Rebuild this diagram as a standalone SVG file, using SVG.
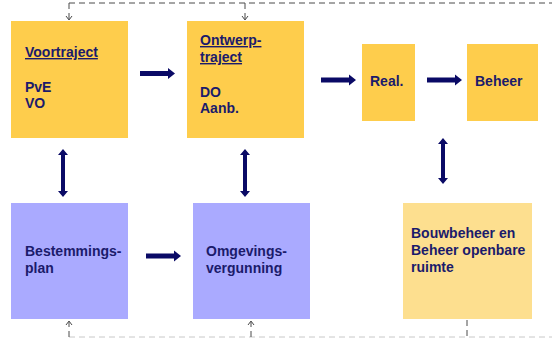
<svg xmlns="http://www.w3.org/2000/svg" width="552" height="338" viewBox="0 0 552 338">
<style>
.y{fill:#FECD4C}
.p{fill:#AAAAFF}
.l{fill:#FDDF8F}
.t{font-family:"Liberation Sans",Arial,sans-serif;font-weight:bold;font-size:14px;fill:#1B1B6B}
.a{fill:#0A0A66}
.d{fill:none;stroke:#4A4A4A;stroke-width:1;stroke-dasharray:6,4}
.dl{fill:none;stroke:#C8C8C8;stroke-width:1;stroke-dasharray:6,4}
.h{fill:none;stroke:#4A4A4A;stroke-width:1}
</style>
<rect width="552" height="338" fill="#fff"/>
<g id="connectors">
  <!-- dashed feedback lines -->
  <path class="d" d="M69,3 H552"/>
  <path class="d" d="M69,3 V19"/>
  <path class="h" d="M66,16 L69,20 L72,16"/>
  <path class="d" d="M245,3 V19"/>
  <path class="h" d="M242,16 L245,20 L248,16"/>
  <path class="dl" d="M69,337 H552"/>
  <path class="d" d="M69,337 V322"/>
  <path class="h" d="M66,325 L69,321 L72,325"/>
  <path class="d" d="M251,337 V322"/>
  <path class="h" d="M248,325 L251,321 L254,325"/>
  <path class="d" d="M467,320 V338"/>
  <!-- horizontal arrows -->
  <polygon class="a" points="140,71 168,71 168,68 175,73.5 168,79 168,76 140,76"/>
  <polygon class="a" points="321,77.5 349,77.5 349,74.5 356,80 349,85.5 349,82.5 321,82.5"/>
  <polygon class="a" points="427,77.5 455,77.5 455,74.5 462,80 455,85.5 455,82.5 427,82.5"/>
  <polygon class="a" points="146,253.5 174,253.5 174,250.5 181,256 174,261.5 174,258.5 146,258.5"/>
  <!-- vertical double arrows -->
  <polygon class="a" points="63,149 68,155 65,155 65,191 68,191 63,197 58,191 61,191 61,155 58,155"/>
  <polygon class="a" points="245,149 250,155 247,155 247,191 250,191 245,197 240,191 243,191 243,155 240,155"/>
  <polygon class="a" points="443,138 448,144 445,144 445,178 448,178 443,184 438,178 441,178 441,144 438,144"/>
</g>
<g id="voortraject">
  <rect class="y" x="11" y="21" width="117" height="117"/>
  <text class="t" x="25" y="57" text-decoration="underline">Voortraject</text>
  <text class="t" x="25" y="92">PvE</text>
  <text class="t" x="25" y="108">VO</text>
</g>
<g id="ontwerptraject">
  <rect class="y" x="187" y="21" width="117" height="117"/>
  <text class="t" x="200" y="45" text-decoration="underline">Ontwerp-</text>
  <text class="t" x="200" y="62" text-decoration="underline">traject</text>
  <text class="t" x="200" y="97">DO</text>
  <text class="t" x="200" y="113">Aanb.</text>
</g>
<g id="real">
  <rect class="y" x="362" y="44" width="53" height="77"/>
  <text class="t" x="370" y="86">Real.</text>
</g>
<g id="beheer">
  <rect class="y" x="467" y="44" width="71" height="77"/>
  <text class="t" x="475" y="86">Beheer</text>
</g>
<g id="bestemmingsplan">
  <rect class="p" x="11" y="203" width="117" height="116"/>
  <text class="t" x="25" y="256">Bestemmings-</text>
  <text class="t" x="25" y="273">plan</text>
</g>
<g id="omgevingsvergunning">
  <rect class="p" x="193" y="203" width="117" height="116"/>
  <text class="t" x="206" y="256">Omgevings-</text>
  <text class="t" x="206" y="273">vergunning</text>
</g>
<g id="bouwbeheer">
  <rect class="l" x="403" y="203" width="129" height="116"/>
  <text class="t" x="411" y="238">Bouwbeheer en</text>
  <text class="t" x="411" y="255">Beheer openbare</text>
  <text class="t" x="411" y="272">ruimte</text>
</g>
</svg>
